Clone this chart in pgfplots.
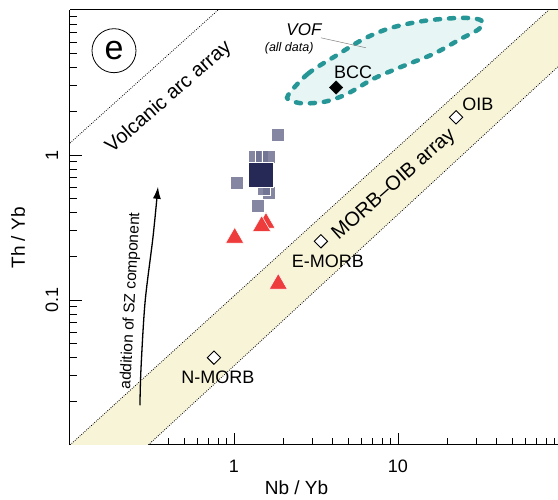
\documentclass[border=0pt]{standalone}
\usepackage{pgfplots}
\pgfplotsset{compat=1.18}
\usepackage{fontspec}
\setmainfont{Liberation Sans}
\usetikzlibrary{arrows.meta}
\definecolor{bandc}{RGB}{248,244,216}
\definecolor{vofc}{RGB}{232,245,245}
\definecolor{tealc}{RGB}{38,150,150}
\definecolor{greysq}{RGB}{112,114,146}
\definecolor{navysq}{RGB}{38,40,86}
\definecolor{redtri}{RGB}{238,60,60}
\begin{document}
\begin{tikzpicture}
\begin{axis}[
  at={(0,0)}, anchor=south west,
  scale only axis, width=489.8pt, height=435pt,
  xmode=log, ymode=log,
  xmin=0.1, xmax=97, ymin=0.01, ymax=10,
  axis lines*=left,
  axis line style={line width=1pt},
  tick align=inside,
  major tick length=12pt, minor tick length=7pt,
  every tick/.style={black, line width=0.8pt},
  xtick={1,10}, xticklabels={1,10},
  ytick={0.1,1}, yticklabels={0.1,1},
  minor xtick={0.2,0.3,0.4,0.5,0.6,0.7,0.8,0.9,2,3,4,5,6,7,8,9,20,30,40,50,60,70,80,90},
  minor ytick={0.02,0.03,0.04,0.05,0.06,0.07,0.08,0.09,0.2,0.3,0.4,0.5,0.6,0.7,0.8,0.9,2,3,4,5,6,7,8,9},
  ticklabel style={font=\fontsize{18}{18}\selectfont},
  xticklabel style={anchor=center, yshift=-21pt},
  yticklabel style={xshift=-18pt, rotate=90, anchor=center},
  xlabel={Nb / Yb}, ylabel={Th / Yb},
  every axis x label/.style={at={(axis description cs:0.4624,-0.0989)}, anchor=center, font=\fontsize{19}{19}\selectfont},
  every axis y label/.style={at={(axis description cs:-0.1062,0.476)}, anchor=center, rotate=90, font=\fontsize{19}{19}\selectfont},
  clip=true,
]
% MORB-OIB band
\addplot[fill=bandc, draw=none] coordinates {(0.1,0.01) (83,10) (100,10) (100,4.31) (0.3,0.01)};
\addplot[dash pattern=on 0.8pt off 1.4pt, line width=0.8pt] coordinates {(0.1,0.01) (83,10)};
\addplot[dash pattern=on 0.8pt off 1.4pt, line width=0.8pt] coordinates {(0.3,0.01) (100,4.31)};
% volcanic arc array line
\addplot[dash pattern=on 0.8pt off 1.4pt, line width=0.8pt] coordinates {(0.1,1.21) (0.8,10)};
% VOF field
\addplot[fill=vofc, draw=tealc, line width=4.5pt, dash pattern=on 5pt off 9pt, line cap=round, smooth cycle, tension=0.55] coordinates {
(2.135,2.58) (2.83,3.64) (4.19,4.84) (6.21,6.33) (9.07,7.53) (14.4,8.41) (23.2,8.81) (30.3,8.68) (33.0,8.15)
(30.7,7.30) (24.2,6.33) (16.6,5.00) (10.9,4.13) (7.14,3.37) (4.96,2.66) (3.64,2.34) (2.63,2.27) (2.23,2.38)};
\addplot[gray, line width=0.5pt] coordinates {(3.39,6.43) (6.38,5.49)};
% SZ arrow
\addplot[smooth, line width=1.3pt, -{Latex[length=12pt,width=8pt]}] coordinates {(0.267,0.0188) (0.271,0.0337) (0.287,0.0969) (0.321,0.274) (0.344,0.604)};
% grey squares
\addplot[only marks, mark=square*, mark size=6.5pt, mark options={fill=greysq, fill opacity=0.85, draw=white, line width=0.5pt}] coordinates {
(1.85,1.39) (1.04,0.643) (1.34,0.98) (1.48,0.98) (1.63,0.98) (1.63,0.55) (1.52,0.585) (1.40,0.447)};
\addplot[only marks, mark=square*, mark size=12.5pt, mark options={fill=navysq, draw=white, line width=1pt}] coordinates {(1.46,0.73)};
% red triangles
\addplot[only marks, mark=triangle*, mark size=10.5pt, mark options={fill=redtri, draw=white, line width=0.5pt}] coordinates {
(1.567,0.340) (1.475,0.323) (1.01,0.268) (1.862,0.129)};
% reference compositions
\addplot[only marks, mark=square*, mark size=4.7pt, mark options={rotate=45, fill=white, draw=black, line width=0.9pt}] coordinates {(0.755,0.040) (3.39,0.254) (22.6,1.82)};
\addplot[only marks, mark=square*, mark size=4.7pt, mark options={rotate=45, fill=black, draw=black, line width=0.5pt}] coordinates {(4.19,2.92)};
% labels
\node[font=\fontsize{18}{18}\selectfont] at (axis cs:5.32,3.70) {BCC};
\node[font=\fontsize{18}{18}\selectfont] at (axis cs:30.7,2.24) {OIB};
\node[font=\fontsize{18}{18}\selectfont] at (axis cs:3.74,0.185) {E-MORB};
\node[font=\fontsize{18}{18}\selectfont] at (axis cs:0.799,0.0292) {N-MORB};
\node[font=\fontsize{17}{17}\selectfont\itshape] at (axis cs:2.67,7.30) {VOF};
\node[font=\fontsize{12.5}{12.5}\selectfont\itshape] at (axis cs:2.17,5.41) {(all data)};
\node[rotate=41, font=\fontsize{20}{20}\selectfont] at (axis cs:0.40,2.5) {Volcanic arc array};
\node[rotate=41.5, font=\fontsize{20}{20}\selectfont] at (axis cs:9.47,0.623) {MORB–OIB array};
\node[rotate=87, font=\fontsize{15.5}{15.5}\selectfont] at (axis cs:0.235,0.0985) {addition of SZ component};
\node[circle, draw, line width=0.8pt, minimum size=44pt, inner sep=0pt, font=\fontsize{34}{34}\selectfont] at (axis cs:0.1855,5.24) {e};
\draw[line width=1pt] (rel axis cs:0,1) -- (rel axis cs:1,1);
\end{axis}
\pgfresetboundingbox
\path (-70pt,-55pt) rectangle (488pt,445pt);
\end{tikzpicture}
\end{document}
